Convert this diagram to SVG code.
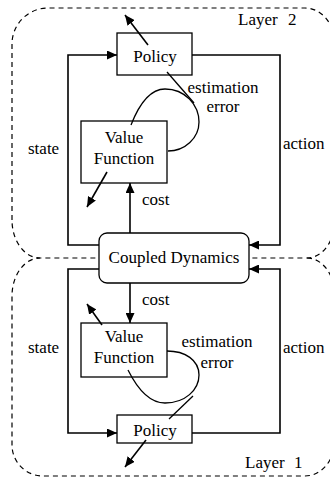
<svg xmlns="http://www.w3.org/2000/svg" width="330" height="479" viewBox="0 0 330 479">
  <defs>
    <marker id="arrow" viewBox="0 0 10 9" markerWidth="10" markerHeight="9" refX="10" refY="4.5" orient="auto" markerUnits="userSpaceOnUse">
      <path d="M0,0 L10,4.5 L0,9 Z" fill="#000"/>
    </marker>
    <style>
      .layer { fill: none; stroke: #000; stroke-width: 1.2; stroke-dasharray: 5 4; }
      .box { fill: #fff; stroke: #000; stroke-width: 1.3; }
      .wire { fill: none; stroke: #000; stroke-width: 1.6; }
      .arc { fill: none; stroke: #000; stroke-width: 1.3; }
      .lbl { font-family: "Liberation Serif", "Times New Roman", serif; font-size: 17px; fill: #000; }
      .mid { text-anchor: middle; }
    </style>
  </defs>

  <!-- layer outlines; the boundary between the layers is drawn once, by layer 2 -->
  <g id="layer2">
    <path class="layer" d="M12,220 L12,44 A36,36 0 0 1 48,8 L305,8 A30,36 0 0 1 335,44 L335,220 A28,38 0 0 1 307,258 L40,258 A28,38 0 0 1 12,220 Z"/>
    <text class="lbl" x="238" y="25">Layer <tspan x="288">2</tspan></text>
  </g>
  <g id="layer1">
    <path class="layer" d="M307,258 A28,38 0 0 1 335,296 L335,440 A30,36 0 0 1 305,476 L43,476 A31,31 0 0 1 12,445 L12,296 A28,38 0 0 1 40,258"/>
    <text class="lbl" x="245" y="468">Layer <tspan x="294">1</tspan></text>
  </g>

  <!-- nodes -->
  <g id="policy2">
    <rect class="box" x="117" y="33" width="75" height="42"/>
    <text class="lbl mid" x="155" y="62">Policy</text>
  </g>
  <g id="value2">
    <rect class="box" x="81" y="121" width="86" height="62"/>
    <text class="lbl mid" x="124" y="143">Value</text>
    <text class="lbl mid" x="124" y="164">Function</text>
  </g>
  <g id="coupled">
    <rect class="box" x="99" y="233" width="150" height="50" rx="8" ry="8"/>
    <text class="lbl mid" x="174" y="263">Coupled Dynamics</text>
  </g>
  <g id="value1">
    <rect class="box" x="81" y="323" width="86" height="54"/>
    <text class="lbl mid" x="124" y="342">Value</text>
    <text class="lbl mid" x="124" y="363">Function</text>
  </g>
  <g id="policy1">
    <rect class="box" x="117" y="415" width="75" height="28"/>
    <text class="lbl mid" x="155" y="436">Policy</text>
  </g>

  <!-- connectors -->
  <g id="connectors">
    <!-- layer 2 loop -->
    <polyline class="wire" points="99,245 68,245 68,55 117,55" marker-end="url(#arrow)"/>
    <polyline class="wire" points="192,55 280,55 280,245 249,245" marker-end="url(#arrow)"/>
    <line class="wire" x1="130" y1="233" x2="130" y2="183" marker-end="url(#arrow)"/>
    <line class="wire" x1="148" y1="45" x2="125" y2="15" marker-end="url(#arrow)"/>
    <line class="wire" x1="107" y1="172" x2="87" y2="207" marker-end="url(#arrow)"/>
    <path class="arc" d="M131,125 C140,102 152,89 165,89 C185,89 199,105 199,122 C199,138 185,151 168,151"/>
    <line class="arc" x1="167" y1="72" x2="194" y2="103"/>

    <!-- layer 1 loop -->
    <polyline class="wire" points="99,269 68,269 68,433 117,433" marker-end="url(#arrow)"/>
    <polyline class="wire" points="192,433 280,433 280,269 249,269" marker-end="url(#arrow)"/>
    <line class="wire" x1="130" y1="283" x2="130" y2="323" marker-end="url(#arrow)"/>
    <line class="wire" x1="102" y1="325" x2="87" y2="304" marker-end="url(#arrow)"/>
    <line class="wire" x1="146" y1="440" x2="125" y2="467" marker-end="url(#arrow)"/>
    <path class="arc" d="M128,370 C138,390 150,403 165,403 C185,403 199,390 199,375 C199,360 185,351 167,351"/>
    <line class="arc" x1="169" y1="419" x2="193" y2="396"/>

    <text class="lbl" x="28" y="154">state</text>
    <text class="lbl" x="283" y="149">action</text>
    <text class="lbl" x="142" y="205">cost</text>
    <text class="lbl mid" x="223" y="93">estimation</text>
    <text class="lbl mid" x="223" y="112">error</text>

    <text class="lbl" x="28" y="353">state</text>
    <text class="lbl" x="283" y="353">action</text>
    <text class="lbl" x="142" y="305">cost</text>
    <text class="lbl mid" x="217" y="347">estimation</text>
    <text class="lbl mid" x="217" y="368">error</text>
  </g>
</svg>
